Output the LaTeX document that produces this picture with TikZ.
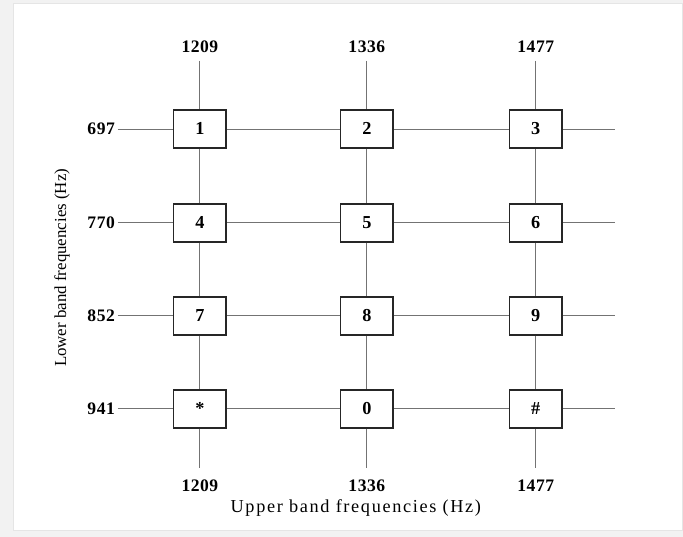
\documentclass[tikz,border=0pt]{standalone}
\usepackage{fontspec}
\setmainfont{Liberation Serif}
\begin{document}
\begin{tikzpicture}[x=0.025cm, y=-0.025cm,
  key/.style={draw=black!85, line width=1.2pt, fill=white, minimum width=1.32cm,
    minimum height=0.95cm, inner sep=0pt, font=\fontsize{13}{15}\selectfont\bfseries},
  wire/.style={draw=black!55, line width=0.6pt},
  freq/.style={font=\fontsize{12.5}{14}\selectfont\bfseries\addfontfeature{LetterSpace=3}},
  title/.style={font=\fontsize{13}{15}\selectfont\addfontfeature{LetterSpace=9}}]
  % Page
  \fill[black!5] (0,0) rectangle (683,537);
  \fill[white, draw=black!10] (13,3) rectangle (683,530);

  % Keys, one row per lower band tone
  \foreach \r/\y/\a/\b/\c in {1/129/1/2/3, 2/223/4/5/6, 3/316/7/8/9, 4/409/*/0/\#} {
    \node[key] (k\r1) at (200,\y) {\a};
    \node[key] (k\r2) at (367,\y) {\b};
    \node[key] (k\r3) at (536,\y) {\c};
  }

  % Lower band lines
  \foreach \r/\y/\f in {1/129/697, 2/223/770, 3/316/852, 4/409/941} {
    \coordinate (w\r) at (118,\y);
    \coordinate (e\r) at (615,\y);
    \node[freq, anchor=east, inner sep=2pt] (lo\r) at (w\r) {\f};
    \draw[wire] (w\r) -- (k\r1) -- (k\r2) -- (k\r3) -- (e\r);
  }

  % Upper band lines
  \foreach \c/\x/\f in {1/200/1209, 2/367/1336, 3/536/1477} {
    \coordinate (n\c) at (\x,61);
    \coordinate (s\c) at (\x,468);
    \node[freq] (hi\c) at (\x,47) {\f};
    \node[freq] (up\c) at (\x,486) {\f};
    \draw[wire] (n\c) -- (k1\c) -- (k2\c) -- (k3\c) -- (k4\c) -- (s\c);
  }

  % Axis titles
  \node[title] (upper) at (356,508) {Upper band\ frequencies\ (Hz)};
  \node[title, font=\fontsize{12}{14}\selectfont, rotate=90] (lower) at (62,268)
    {Lower band frequencies (Hz)};
\end{tikzpicture}
\end{document}
